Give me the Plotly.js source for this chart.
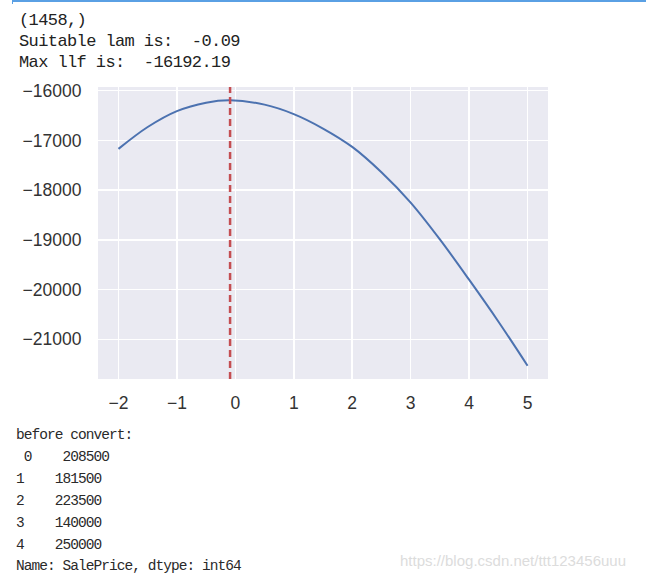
<!DOCTYPE html>
<html>
<head>
<meta charset="utf-8">
<script src="https://cdn.plot.ly/plotly-3.0.1.min.js"></script>
<style>
  html, body { margin:0; padding:0; background:#fff; width:646px; height:580px; overflow:hidden; }
  .out { position:absolute; white-space:pre; font-family:"Liberation Mono","DejaVu Sans Mono",monospace; color:#222; }
  .top { font-size:17px; letter-spacing:-0.6px; left:19px; }
  .bot { font-size:14.5px; letter-spacing:-0.95px; left:16px; color:#2a2a2a; }
  #bar { position:absolute; left:12px; top:0; width:634px; height:2px; background:#5aa0e4; }
  #barl { position:absolute; left:12px; top:0; width:1px; height:4px; background:#5aa0e4; }
  #chart { position:absolute; left:0; top:66px; width:646px; height:360px; }
  #wm { position:absolute; left:400px; top:552px; font-family:"Liberation Sans",Arial,sans-serif; font-size:15px; color:#dcdcdc; white-space:pre; }
</style>
</head>
<body>
<div id="bar"></div><div id="barl"></div>
<div id="txt"></div>
<div id="chart"></div>
<div id="wm"></div>
<script>
// ---- data ----
const shapeOut = "(1458,)";
const suitableLam = -0.09;
const maxLlf = -16192.19;
const lams = [-2, -1.5, -1, -0.5, -0.09, 0.5, 1, 1.5, 2, 2.5, 3, 3.5, 4, 4.5, 5];
const llf  = [-17170, -16730, -16410, -16240, -16192.19, -16280, -16470, -16760, -17130, -17640, -18250, -18990, -19800, -20640, -21530];
const idxLabels = ["0", "1", "2", "3", "4"];
const salePrice = [208500, 181500, 223500, 140000, 250000];
const seriesName = "SalePrice";
const dtypeName = "int64";
const watermark = "https://blog.csdn.net/ttt123456uuu";

// ---- notebook text ----
const txt = document.getElementById('txt');
function addLine(cls, text, centerY, fs) {
  const d = document.createElement('div');
  d.className = 'out ' + cls;
  d.textContent = text;
  d.style.top = (centerY - fs * 0.6) + 'px';
  d.style.lineHeight = (fs * 1.2) + 'px';
  txt.appendChild(d);
}
addLine('top', shapeOut, 21.5, 17);
addLine('top', 'Suitable lam is:  ' + suitableLam.toFixed(2), 42.5, 17);
addLine('top', 'Max llf is:  ' + maxLlf.toFixed(2), 63.5, 17);
const botY = [436, 458, 480, 502, 524, 546, 567];
addLine('bot', 'before convert:', botY[0], 14.5);
idxLabels.forEach((ix, i) => {
  const line = (i === 0 ? ' ' : '') + ix + '    ' + salePrice[i];
  addLine('bot', line, botY[i + 1], 14.5);
});
addLine('bot', 'Name: ' + seriesName + ', dtype: ' + dtypeName, botY[6], 14.5);
document.getElementById('wm').textContent = watermark;

// ---- chart ----
const xmin = Math.min(...lams), xmax = Math.max(...lams);
const ymin = Math.min(...llf), ymax = Math.max(...llf);
const xpad = (xmax - xmin) * 0.05, ypad = (ymax - ymin) * 0.05;

const tickFont = {family: '"Liberation Sans", Arial, sans-serif', size: 17.5, color: '#333'};
Plotly.newPlot('chart', [{
  x: lams, y: llf, type: 'scatter', mode: 'lines',
  line: {color: '#4c72b0', width: 2, shape: 'spline', smoothing: 1},
  hoverinfo: 'skip'
}], {
  width: 646, height: 360,
  margin: {l: 98, r: 98, t: 21, b: 47},
  paper_bgcolor: 'rgba(0,0,0,0)',
  plot_bgcolor: '#eaeaf2',
  showlegend: false,
  xaxis: {
    range: [xmin - xpad, xmax + xpad], dtick: 1, tick0: 0,
    showgrid: true, gridcolor: '#ffffff', gridwidth: 1.5,
    zeroline: false, showline: false,
    ticks: 'outside', ticklen: 8, tickcolor: 'rgba(0,0,0,0)',
    tickfont: tickFont
  },
  yaxis: {
    range: [ymin - ypad, ymax + ypad], dtick: 1000, tick0: 0, tickformat: 'd',
    showgrid: true, gridcolor: '#ffffff', gridwidth: 1.5,
    zeroline: false, showline: false,
    ticks: 'outside', ticklen: 12, tickcolor: 'rgba(0,0,0,0)',
    tickfont: tickFont
  },
  shapes: [{
    type: 'line', xref: 'x', yref: 'paper',
    x0: suitableLam, x1: suitableLam, y0: 0, y1: 1,
    line: {color: '#c44e52', width: 2.5, dash: '7px,4px'}
  }]
}, {staticPlot: true, displayModeBar: false});
</script>
</body>
</html>
